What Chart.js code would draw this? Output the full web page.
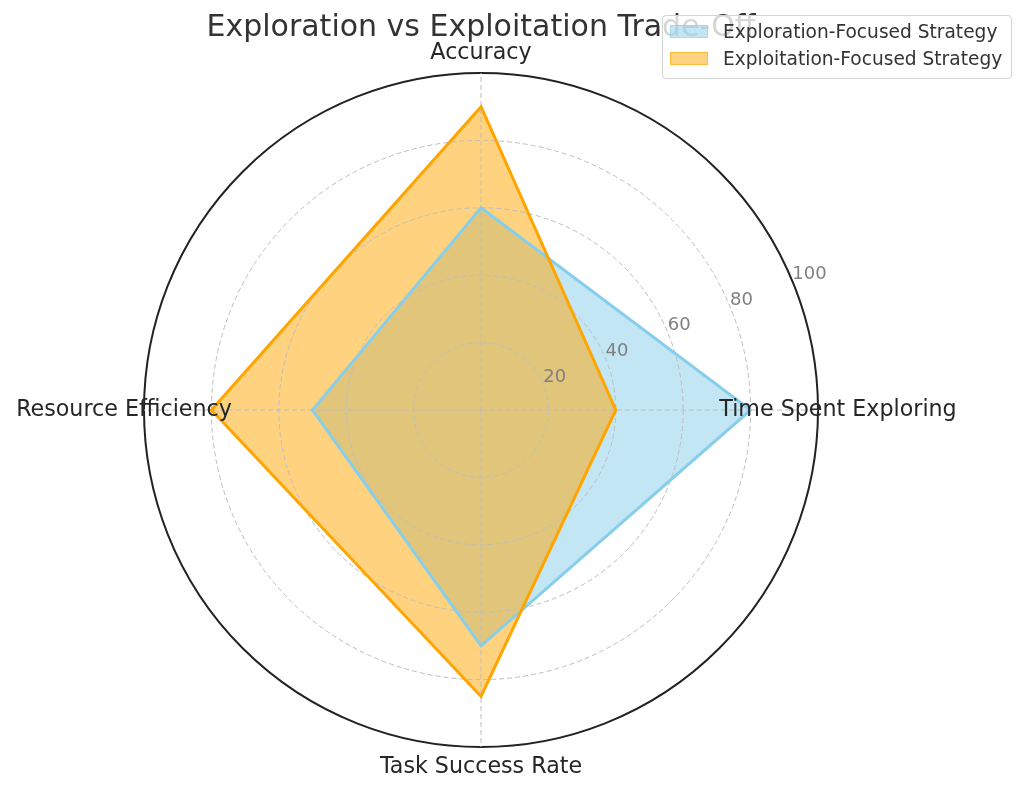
<!DOCTYPE html>
<html>
<head>
<meta charset="utf-8">
<title>Exploration vs Exploitation Trade-Off</title>
<script src="https://cdn.jsdelivr.net/npm/chart.js@4.4.1/dist/chart.umd.min.js"></script>
<style>
	body { margin: 0; background: #fff; font-family: "DejaVu Sans", sans-serif; }
	#wrap { position: relative; width: 1024px; height: 793px; }
	#title { position: absolute; left: 0; top: 8px; width: 962px; text-align: center; font-size: 30px; color: #333; }
	#legend { position: absolute; left: 662px; top: 15px; width: 348px; height: 62px; border: 1px solid #d4d4d4; border-radius: 4px; background: rgba(255,255,255,0.8); }
	.row { position: absolute; left: 0; height: 22px; line-height: 22px; font-size: 18.6px; color: #333; white-space: nowrap; }
	.swatch { position: absolute; left: 7px; top: 4px; width: 38px; height: 13px; box-sizing: border-box; }
	.row span { position: absolute; left: 60px; top: 0; }
</style>
</head>
<body>
<div id="wrap">
	<canvas id="myChart" width="1024" height="793"></canvas>
	<div id="title">Exploration vs Exploitation Trade-Off</div>
	<div id="legend"></div>
</div>
<script>
// data, in Chart.js order (clockwise from the top)
var categories = ["Accuracy", "Time Spent Exploring", "Task Success Rate", "Resource Efficiency"];
var seriesNames = ["Exploration-Focused Strategy", "Exploitation-Focused Strategy"];
var explorationValues = [60, 80, 70, 50];
var exploitationValues = [90, 40, 85, 80];
var tickValues = [20, 40, 60, 80, 100];

var colors = ["rgb(135,206,235)", "rgb(255,165,0)"];
var fills = ["rgba(135,206,235,0.5)", "rgba(255,165,0,0.5)"];

// legend (html)
var legend = document.getElementById('legend');
for (var i = 0; i < seriesNames.length; i++)
{
	var row = document.createElement('div');
	row.className = 'row';
	row.style.top = (5 + i * 27) + 'px';
	row.innerHTML = '<div class="swatch" style="background:' + fills[i] + ';border:1px solid ' + fills[i] + '"></div><span>' + seriesNames[i] + '</span>';
	legend.appendChild(row);
}

// point labels centered like matplotlib, and r tick labels at 22.5 deg
var labelsPlugin = {
	id: 'polarLabels',
	afterDraw: function (chart)
	{
		var ctx = chart.ctx;
		var scale = chart.scales.r;
		ctx.save();
		ctx.fillStyle = '#262626';
		ctx.font = '22.2px "DejaVu Sans"';
		ctx.textAlign = 'center';
		ctx.textBaseline = 'middle';
		for (var i = 0; i < categories.length; i++)
		{
			var p = scale.getPointPosition(i, scale.drawingArea + 20);
			ctx.fillText(categories[i], p.x, p.y);
		}
		ctx.fillStyle = '#808080';
		ctx.font = '18px "DejaVu Sans"';
		ctx.textAlign = 'left';
		ctx.textBaseline = 'bottom';
		var a = 22.5 * Math.PI / 180;
		for (var j = 0; j < tickValues.length; j++)
		{
			var d = scale.getDistanceFromCenterForValue(tickValues[j]);
			ctx.fillText(String(tickValues[j]), scale.xCenter + d * Math.cos(a), scale.yCenter - d * Math.sin(a) + 2);
		}
		ctx.restore();
	}
};

var ctx = document.getElementById("myChart");
var myChart = new Chart(ctx, {
	type: 'radar',
	data: {
		labels: categories,
		datasets: [
		{
			label: seriesNames[0],
			data: explorationValues,
			backgroundColor: fills[0],
			borderColor: colors[0],
			borderWidth: 3,
			pointRadius: 0,
			fill: true,
			order: 2
		},
		{
			label: seriesNames[1],
			data: exploitationValues,
			backgroundColor: fills[1],
			borderColor: colors[1],
			borderWidth: 3,
			pointRadius: 0,
			fill: true,
			order: 1
		}]
	},
	options: {
		responsive: false,
		animation: false,
		layout: { padding: { left: 144, right: 206, top: 73, bottom: 46 } },
		plugins: {
			legend: { display: false },
			title: { display: false },
			tooltip: { enabled: false },
			filler: { drawTime: 'beforeDraw' }
		},
		scales: {
			r: {
				min: 0,
				max: 100,
				ticks: { stepSize: 20, display: false },
				pointLabels: { display: false },
				grid: {
					circular: true,
					color: function (c) { return c.index === 5 ? '#222' : '#bdbdbd'; },
					lineWidth: function (c) { return c.index === 5 ? 2 : 1; }
				},
				border: {
					dash: function (c) { return c.index === 5 ? [] : [5, 3]; }
				},
				angleLines: { color: '#bdbdbd', lineWidth: 1, borderDash: [5, 3] }
			}
		}
	},
	plugins: [labelsPlugin]
});
</script>
</body>
</html>
